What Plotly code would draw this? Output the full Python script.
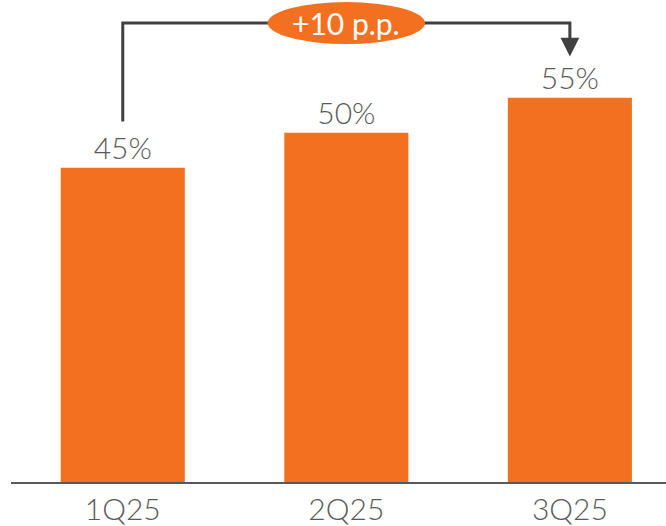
import plotly.graph_objects as go

categories = ["1Q25", "2Q25", "3Q25"]
values = [45, 50, 55]
value_labels = ["45%", "50%", "55%"]
change_label = "+10 p.p."

ORANGE = "#F37021"
GRAY_TEXT = "#595959"
LINE = "#404040"
FONT = "Lato"

x = list(range(len(categories)))

fig = go.Figure()
fig.add_trace(go.Bar(
    x=x, y=values, width=0.555,
    marker=dict(color=ORANGE, line=dict(width=0)),
    text=value_labels, textposition="outside",
    textfont=dict(family=FONT, size=30, color=GRAY_TEXT, weight=300),
    cliponaxis=False, hoverinfo="skip",
))

# bracket from first to last bar
y_top = 65.7
y_start = values[0] + 6.6
y_arrow_tip = values[-1] + 5.9
fig.add_shape(type="path",
              path=f"M {x[0]} {y_start} L {x[0]} {y_top} L {x[-1]} {y_top} L {x[-1]} {y_arrow_tip + 2.2}",
              line=dict(color=LINE, width=3), xref="x", yref="y")
fig.add_annotation(x=x[-1], y=y_arrow_tip, ax=x[-1], ay=y_arrow_tip + 2.4,
                   xref="x", yref="y", axref="x", ayref="y",
                   showarrow=True, arrowhead=2, arrowsize=1.25, arrowwidth=3,
                   arrowcolor=LINE, text="")
mid = (x[0] + x[-1]) / 2
fig.add_shape(type="circle", x0=mid - 0.352, x1=mid + 0.352, y0=y_top - 3.0, y1=y_top + 3.0,
              fillcolor=ORANGE, line=dict(width=0), xref="x", yref="y")
fig.add_annotation(x=mid, y=y_top, text=change_label, showarrow=False,
                   xref="x", yref="y",
                   font=dict(family=FONT, size=30, color="white"))

fig.update_layout(
    width=666, height=526,
    margin=dict(l=11, r=0, t=0, b=41),
    plot_bgcolor="white", paper_bgcolor="white",
    showlegend=False,
    xaxis=dict(range=[-0.5, 2.43], tickvals=x, ticktext=categories,
               showgrid=False, zeroline=False, showline=True,
               linecolor="#595959", linewidth=2, ticks="",
               tickfont=dict(family=FONT, size=30, color=GRAY_TEXT, weight=300)),
    yaxis=dict(range=[0, 69.0], visible=False, showgrid=False, zeroline=False),
)

fig.write_html("out.html", config={"displayModeBar": False},
               post_script="document.body.style.margin='0';document.body.style.padding='0';")
